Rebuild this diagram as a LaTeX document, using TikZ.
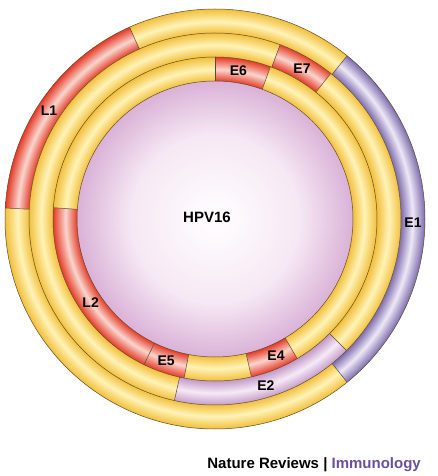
\documentclass[tikz,border=0pt]{standalone}
\usepackage{fontspec}
\setmainfont{Liberation Sans}
\usepackage{tikz}

\definecolor{yelDark}{HTML}{F2BF3A}
\definecolor{yelLight}{HTML}{FFF3B8}
\definecolor{redDark}{HTML}{E53A25}
\definecolor{redLight}{HTML}{F9D6CF}
\definecolor{purDark}{HTML}{7D6BAE}
\definecolor{purLight}{HTML}{EEE8F6}
\definecolor{pinkDark}{HTML}{C49AC8}
\definecolor{pinkLight}{HTML}{F6EAF6}
\definecolor{coreEdge}{HTML}{DAB2D7}
\definecolor{coreMid}{HTML}{F6E8F4}
\definecolor{rimLine}{HTML}{5B4A30}
\definecolor{natPurple}{HTML}{6A4FA0}

% radial shading for one ring: name, inner, middle, outer (bp), dark, light
\newcommand{\ringshading}[6]{%
  \pgfdeclareradialshading{#1}{\pgfpointorigin}{color(0bp)=(#5); color(#2)=(#5); color(#3)=(#6); color(#4)=(#5); color(50bp)=(#5)}}

% outer ring 186-210, middle ring 162-186, inner ring 138-162 (210 -> 25bp)
\ringshading{yelA}{22.1bp}{23.5bp}{25bp}{yelDark}{yelLight}
\ringshading{redA}{22.1bp}{23.5bp}{25bp}{redDark}{redLight}
\ringshading{purA}{22.1bp}{23.5bp}{25bp}{purDark}{purLight}
\ringshading{yelB}{19.3bp}{20.7bp}{22.2bp}{yelDark}{yelLight}
\ringshading{redB}{19.3bp}{20.7bp}{22.2bp}{redDark}{redLight}
\ringshading{pinkB}{19.3bp}{20.7bp}{22.2bp}{pinkDark}{pinkLight}
\ringshading{yelC}{16.4bp}{17.8bp}{19.3bp}{yelDark}{yelLight}
\ringshading{redC}{16.4bp}{17.8bp}{19.3bp}{redDark}{redLight}
\pgfdeclareradialshading{core}{\pgfpointorigin}{color(0bp)=(white); color(10bp)=(coreMid); color(16.4bp)=(coreEdge); color(50bp)=(coreEdge)}

% one gene segment: shading, r in, r out, start angle, end angle
\newcommand{\genseg}[5]{%
  \begin{scope}
    \clip (#4:#3) arc[start angle=#4, end angle=#5, radius=#3] -- (#5:#2) arc[start angle=#5, end angle=#4, radius=#2] -- cycle;
    \shade[shading=#1] (0,0) circle[radius=210];
  \end{scope}}

\begin{document}
\begin{tikzpicture}[x=1pt, y=1pt,
    lab/.style={inner sep=0pt, font=\fontsize{14}{14}\selectfont\bfseries},
    rim/.style={draw=rimLine, line width=0.5pt}
  ]
  \useasboundingbox (-215,-257) rectangle (223,219);

  % centre
  \begin{scope}
    \clip (0,0) circle[radius=138];
    \shade[shading=core] (0,0) circle[radius=210];
  \end{scope}

  % outer ring
  \genseg{yelA}{186}{210}{51}{114}
  \genseg{redA}{186}{210}{114}{177}
  \genseg{yelA}{186}{210}{177}{309}
  \genseg{purA}{186}{210}{-51}{51}

  % middle ring
  \genseg{yelB}{162}{186}{69.5}{257.4}
  \genseg{redB}{162}{186}{51.5}{69.5}
  \genseg{yelB}{162}{186}{-45}{51.5}
  \genseg{pinkB}{162}{186}{-102.6}{-45}

  % inner ring
  \genseg{yelC}{138}{162}{90}{176}
  \genseg{redC}{138}{162}{70}{90}
  \genseg{yelC}{138}{162}{-59.5}{70}
  \genseg{redC}{138}{162}{-77}{-59.5}
  \genseg{yelC}{138}{162}{-101}{-77}
  \genseg{redC}{138}{162}{-116}{-101}
  \genseg{redC}{138}{162}{176}{244}

  % outlines
  \foreach \r in {138,162,186,210}
    \draw[rim] (0,0) circle[radius=\r];
  \foreach \a in {114,177,51,-51}
    \draw[rim] (\a:186) -- (\a:210);
  \foreach \a in {69.5,51.5,-45,-102.6}
    \draw[rim] (\a:162) -- (\a:186);
  \foreach \a in {90,70,176,-116,-101,-77,-59.5}
    \draw[rim] (\a:138) -- (\a:162);

  % labels
  \node[lab] (hpv) at (-8,2) {\fontsize{15}{15}\selectfont HPV16};
  \node[lab] (L1) at (147:198) {L1};
  \node[lab] (E1) at (-1:198) {E1};
  \node[lab] (E7) at (60:174) {E7};
  \node[lab] (E2) at (-73:174) {E2};
  \node[lab] (E6) at (81:150) {E6};
  \node[lab] (L2) at (-146:150) {L2};
  \node[lab] (E5) at (-109:150) {E5};
  \node[lab] (E4) at (-66:150) {E4};

  \node[lab, font=\fontsize{15}{15}\selectfont\bfseries, anchor=base east] (journal) at (206,-249)
    {Nature Reviews \textcolor{black}{|} \textcolor{natPurple}{Immunology}};
\end{tikzpicture}
\end{document}
